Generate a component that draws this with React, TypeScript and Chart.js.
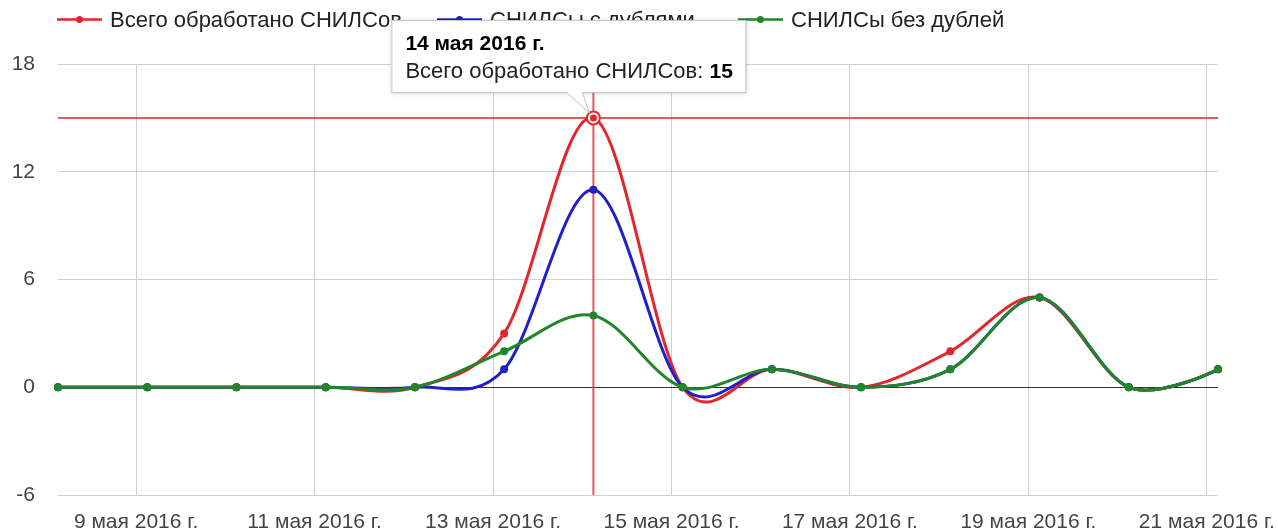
import React, { useEffect, useRef } from "react";
import { Chart, registerables } from "chart.js";

Chart.register(...registerables);

// ---------- data ----------
const days = [8, 9, 10, 11, 12, 13, 14, 15, 16, 17, 18, 19, 20, 21];
const dateLabels = [
  "8 мая 2016 г.", "9 мая 2016 г.", "10 мая 2016 г.", "11 мая 2016 г.",
  "12 мая 2016 г.", "13 мая 2016 г.", "14 мая 2016 г.", "15 мая 2016 г.",
  "16 мая 2016 г.", "17 мая 2016 г.", "18 мая 2016 г.", "19 мая 2016 г.",
  "20 мая 2016 г.", "21 мая 2016 г.",
];
const hourOfDay = 3; // samples taken at 03:00
const totalProcessed = [0, 0, 0, 0, 0, 3, 15, 0, 1, 0, 2, 5, 0, 1];
const withDuplicates = [0, 0, 0, 0, 0, 1, 11, 0, 1, 0, 1, 5, 0, 1];
const withoutDuplicates = [0, 0, 0, 0, 0, 2, 4, 0, 1, 0, 1, 5, 0, 1];
const xTickDays = [9, 11, 13, 15, 17, 19, 21];
const xTickLabels = [
  "9 мая 2016 г.", "11 мая 2016 г.", "13 мая 2016 г.", "15 мая 2016 г.",
  "17 мая 2016 г.", "19 мая 2016 г.", "21 мая 2016 г.",
];
const yTicks = [-6, 0, 6, 12, 18];
const seriesNames = ["Всего обработано СНИЛСов", "СНИЛСы с дублями", "СНИЛСы без дублей"];
const seriesColors = ["#e3262b", "#2020c8", "#22852a"];
const selectedIndex = 6;

const FONT = "Arial, 'Liberation Sans', sans-serif";
const FS = 21;
const FS_TEXT = 22;

const toXY = (vals: number[]) =>
  vals.map((v, i) => ({ x: days[i] + hourOfDay / 24, y: v }));

// Uniform Catmull-Rom style smoothing (like Google "function" curves)
const smoothPlugin = {
  id: "smoothCurve",
  beforeDatasetDraw(chart: any, args: any) {
    const meta = args.meta;
    const line = meta.dataset;
    if (!line) return;
    if (typeof line.updateControlPoints === "function") {
      line.updateControlPoints(chart.chartArea, "x");
    }
    const pts = meta.data;
    const n = pts.length;
    for (let i = 0; i < n; i++) {
      const p = pts[i];
      const prev = pts[Math.max(0, i - 1)];
      const next = pts[Math.min(n - 1, i + 1)];
      let dx = (next.x - prev.x) / 6;
      let dy = (next.y - prev.y) / 6;
      if (i === 0 || i === n - 1) {
        dx = 0;
        dy = 0;
      }
      p.cp1x = p.x - dx;
      p.cp1y = p.y - dy;
      p.cp2x = p.x + dx;
      p.cp2y = p.y + dy;
    }
  },
};

const crosshairPlugin = {
  id: "crosshair",
  beforeDatasetsDraw(chart: any) {
    const { ctx, chartArea, scales } = chart;
    const px = scales.x.getPixelForValue(days[selectedIndex] + hourOfDay / 24);
    const py = scales.y.getPixelForValue(totalProcessed[selectedIndex]);
    ctx.save();
    ctx.strokeStyle = "rgba(226, 60, 60, 0.85)";
    ctx.lineWidth = 2;
    ctx.beginPath();
    ctx.moveTo(chartArea.left, py);
    ctx.lineTo(chartArea.right, py);
    ctx.moveTo(px, chartArea.top);
    ctx.lineTo(px, chartArea.bottom);
    ctx.stroke();
    ctx.restore();
  },
};

const overlayPlugin = {
  id: "overlay",
  afterDraw(chart: any) {
    const { ctx, scales } = chart;
    ctx.save();
    // legend
    const legendX = [57, 437, 738];
    const legendY = 19.5;
    for (let i = 0; i < seriesNames.length; i++) {
      const x0 = legendX[i];
      ctx.strokeStyle = seriesColors[i];
      ctx.lineWidth = 2.5;
      ctx.beginPath();
      ctx.moveTo(x0, legendY);
      ctx.lineTo(x0 + 45, legendY);
      ctx.stroke();
      ctx.fillStyle = seriesColors[i];
      ctx.beginPath();
      ctx.arc(x0 + 22.5, legendY, 3.5, 0, Math.PI * 2);
      ctx.fill();
      ctx.fillStyle = "#222";
      ctx.font = `${FS_TEXT}px ${FONT}`;
      ctx.textBaseline = "alphabetic";
      ctx.textAlign = "left";
      ctx.fillText(seriesNames[i], x0 + 53, 27);
    }

    // highlighted point
    const px = scales.x.getPixelForValue(days[selectedIndex] + hourOfDay / 24);
    const py = scales.y.getPixelForValue(totalProcessed[selectedIndex]);
    ctx.fillStyle = "#fff";
    ctx.strokeStyle = seriesColors[0];
    ctx.lineWidth = 2;
    ctx.beginPath();
    ctx.arc(px, py, 6.5, 0, Math.PI * 2);
    ctx.fill();
    ctx.stroke();
    ctx.fillStyle = seriesColors[0];
    ctx.beginPath();
    ctx.arc(px, py, 3.5, 0, Math.PI * 2);
    ctx.fill();

    // tooltip
    const bx = px - 202;
    const by = 20;
    const bw = 354;
    const bh = 72;
    ctx.save();
    ctx.shadowColor = "rgba(0,0,0,0.25)";
    ctx.shadowBlur = 4;
    ctx.shadowOffsetX = 1;
    ctx.shadowOffsetY = 1;
    ctx.fillStyle = "#fff";
    ctx.fillRect(bx, by, bw, bh);
    ctx.restore();
    ctx.strokeStyle = "#c8c8c8";
    ctx.lineWidth = 1;
    ctx.strokeRect(bx + 0.5, by + 0.5, bw, bh);
    // tail
    const tb = by + bh + 0.5;
    ctx.fillStyle = "#fff";
    ctx.beginPath();
    ctx.moveTo(px - 27, tb - 1);
    ctx.lineTo(px - 4, py - 5);
    ctx.lineTo(px - 11, tb - 1);
    ctx.closePath();
    ctx.fill();
    ctx.strokeStyle = "#c0c0c0";
    ctx.beginPath();
    ctx.moveTo(px - 27, tb);
    ctx.lineTo(px - 4, py - 5);
    ctx.lineTo(px - 11, tb);
    ctx.stroke();

    ctx.fillStyle = "#000";
    ctx.textAlign = "left";
    ctx.textBaseline = "alphabetic";
    ctx.font = `bold ${FS}px ${FONT}`;
    ctx.fillText(dateLabels[selectedIndex], bx + 14, by + 30);
    ctx.font = `${FS_TEXT}px ${FONT}`;
    ctx.fillStyle = "#222";
    const bodyText = `${seriesNames[0]}: `;
    ctx.fillText(bodyText, bx + 14, by + 58);
    const w = ctx.measureText(bodyText).width;
    ctx.font = `bold ${FS}px ${FONT}`;
    ctx.fillStyle = "#000";
    ctx.fillText(String(totalProcessed[selectedIndex]), bx + 14 + w, by + 58);
    ctx.restore();
  },
};

export default function App() {
  const canvasRef = useRef<HTMLCanvasElement | null>(null);

  useEffect(() => {
    document.body.style.margin = "0";
    const canvas = canvasRef.current;
    if (!canvas) return;
    const seriesValues = [totalProcessed, withDuplicates, withoutDuplicates];
    const chart = new Chart(canvas, {
      type: "line",
      data: {
        datasets: seriesValues.map((vals, i) => ({
          label: seriesNames[i],
          data: toXY(vals),
          borderColor: seriesColors[i],
          backgroundColor: seriesColors[i],
          borderWidth: 3,
          pointRadius: 4,
          pointBorderWidth: 0,
          pointBackgroundColor: seriesColors[i],
          tension: 0.3,
          fill: false,
          clip: false as any,
          order: 3 - i,
        })),
      },
      options: {
        responsive: false,
        animation: false,
        devicePixelRatio: 1,
        events: [],
        layout: { padding: { left: 0, right: 60, top: 64, bottom: 0 } },
        plugins: {
          legend: { display: false },
          tooltip: { enabled: false },
        },
        scales: {
          x: {
            type: "linear",
            min: days[0] + hourOfDay / 24,
            max: days[days.length - 1] + hourOfDay / 24,
            afterBuildTicks: (scale: any) => {
              scale.ticks = xTickDays.map((d) => ({ value: d }));
            },
            afterFit: (scale: any) => {
              scale.height = 36;
              scale.paddingLeft = 0;
              scale.paddingRight = 0;
            },
            ticks: {
              autoSkip: false,
              maxRotation: 0,
              padding: 15,
              color: "#444",
              font: { family: FONT, size: FS },
              callback: (value: any) => {
                const idx = xTickDays.indexOf(Number(value));
                return idx >= 0 ? xTickLabels[idx] : "";
              },
            },
            grid: { color: "#d0d0d0", lineWidth: 1, drawTicks: false },
            border: { display: false },
          },
          y: {
            type: "linear",
            min: yTicks[0],
            max: yTicks[yTicks.length - 1],
            afterBuildTicks: (scale: any) => {
              scale.ticks = yTicks.map((v) => ({ value: v }));
            },
            afterFit: (scale: any) => {
              scale.width = 58;
              scale.paddingTop = 0;
              scale.paddingBottom = 0;
            },
            ticks: {
              padding: 23,
              color: "#444",
              font: { family: FONT, size: FS },
              callback: (value: any) => String(value),
            },
            grid: {
              color: (c: any) => (c.tick && c.tick.value === 0 ? "#333" : "#d0d0d0"),
              lineWidth: 1,
              drawTicks: false,
            },
            border: { display: false },
          },
        },
      },
      plugins: [crosshairPlugin, smoothPlugin, overlayPlugin],
    } as any);
    return () => chart.destroy();
  }, []);

  return (
    <div style={{ position: "absolute", left: 0, top: 0, width: 1278, height: 531, background: "#fff" }}>
      <canvas ref={canvasRef} width={1278} height={531} />
    </div>
  );
}
